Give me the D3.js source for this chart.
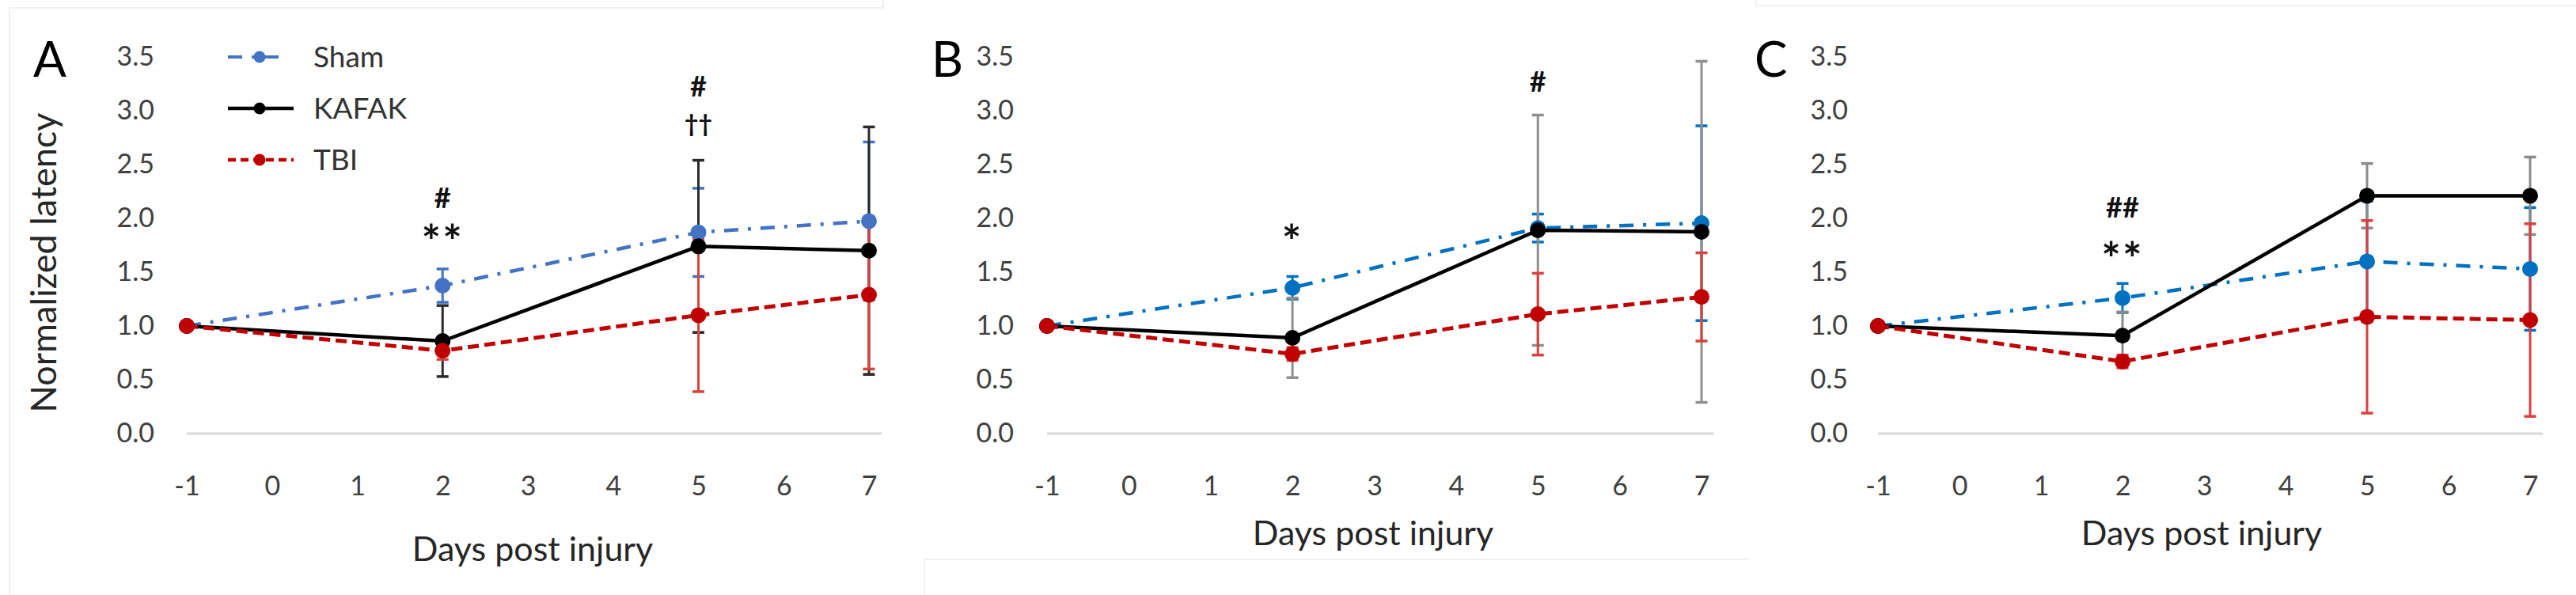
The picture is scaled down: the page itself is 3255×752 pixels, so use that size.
<!DOCTYPE html>
<html>
<head>
<meta charset="utf-8">
<script src="https://cdn.jsdelivr.net/npm/d3@7"></script>
<style>
  html, body { margin: 0; padding: 0; background: #fff; }
  svg { display: block; }
  text { font-family: Lato, "Noto Sans", sans-serif; }
</style>
</head>
<body>
<div id="chart"></div>
<script>
// Days on the x axis, and the tick values
var days = [-1, 2, 5, 7];
var xTicks = [-1, 0, 1, 2, 3, 4, 5, 6, 7];
var yTicks = [0, 0.5, 1, 1.5, 2, 2.5, 3, 3.5];
var seriesNames = ["Sham", "KAFAK", "TBI"];

// Panel A
var shamA = [1.0, 1.375, 1.87, 1.975];
var shamErrA = [0, 0.155, 0.41, 0.735];
var kafakA = [1.0, 0.86, 1.74, 1.70];
var kafakErrA = [0, 0.33, 0.80, 1.15];
var tbiA = [1.0, 0.77, 1.10, 1.29];
var tbiErrA = [0, 0.08, 0.71, 0.69];
var marksA = [
    {day: 2, at: 2.19, text: "#"},
    {day: 2, at: 1.85, text: "**"},
    {day: 5, at: 3.23, text: "#"},
    {day: 5, at: 2.88, text: "††"}
];

// Panel B
var shamB = [1.0, 1.355, 1.91, 1.955];
var shamErrB = [0, 0.105, 0.13, 0.905];
var kafakB = [1.0, 0.89, 1.89, 1.875];
var kafakErrB = [0, 0.37, 1.07, 1.585];
var tbiB = [1.0, 0.74, 1.11, 1.27];
var tbiErrB = [0, 0.06, 0.38, 0.41];
var marksB = [
    {day: 2, at: 1.85, text: "*"},
    {day: 5, at: 3.27, text: "#"}
];

// Panel C
var shamC = [1.0, 1.26, 1.60, 1.53];
var shamErrC = [0, 0.135, 0.56, 0.57];
var kafakC = [1.0, 0.91, 2.21, 2.21];
var kafakErrC = [0, 0.22, 0.30, 0.36];
var tbiC = [1.0, 0.67, 1.085, 1.055];
var tbiErrC = [0, 0.06, 0.895, 0.895];
var marksC = [
    {day: 2, at: 2.10, text: "##"},
    {day: 2, at: 1.69, text: "**"}
];

var width = 3255, height = 752;
var svg = d3.select("#chart").append("svg")
    .attr("width", width).attr("height", height);

// Faint frames left over from the pasted panels
var frame = svg.append("g").attr("stroke", "#ededed").attr("stroke-width", 1.5).attr("fill", "none");
frame.append("path").attr("d", "M12,752 V10 H1116 V0");
frame.append("path").attr("d", "M1168,752 V707 H2210");
frame.append("path").attr("d", "M2219,0 V7 H3255");

function zip(vals, errs) {
    return days.map(function(d, i) { return {day: d, v: vals[i], e: errs[i]}; });
}

var panels = [
    {label: "A", x0: 236, x1: 1098, tickRight: 195, labelX: 42, titleX: 673, titleY: 709,
     sham: zip(shamA, shamErrA), kafak: zip(kafakA, kafakErrA), tbi: zip(tbiA, tbiErrA),
     shamColor: "#4472C4", kafakErrColor: "#2b2b2b", marks: marksA, legend: true, yTitle: true},
    {label: "B", x0: 1323, x1: 2150, tickRight: 1281, labelX: 1177, titleX: 1735, titleY: 689,
     sham: zip(shamB, shamErrB), kafak: zip(kafakB, kafakErrB), tbi: zip(tbiB, tbiErrB),
     shamColor: "#0070C0", kafakErrColor: "#8f8f8f", marks: marksB},
    {label: "C", x0: 2373, x1: 3197, tickRight: 2335, labelX: 2217, titleX: 2782, titleY: 689,
     sham: zip(shamC, shamErrC), kafak: zip(kafakC, kafakErrC), tbi: zip(tbiC, tbiErrC),
     shamColor: "#0070C0", kafakErrColor: "#8a8a8a", marks: marksC}
];

var tbiColor = "#C00000", tbiErrColor = "#d9413f";
var y = d3.scaleLinear().domain([0, 3.5]).range([548, 72]);

panels.forEach(function(p) {
    var x = d3.scaleLinear().domain([-1, 7]).range([p.x0, p.x1]);
    var g = svg.append("g");

    // zero line
    g.append("line")
        .attr("x1", x(-1)).attr("x2", x(7) + 16)
        .attr("y1", y(0)).attr("y2", y(0))
        .attr("stroke", "#d9d9d9").attr("stroke-width", 3);

    // y axis labels
    var ya = g.append("g")
        .attr("transform", "translate(" + p.tickRight + ",0)")
        .call(d3.axisLeft(y).tickValues(yTicks).tickSize(0).tickPadding(0).tickFormat(d3.format(".1f")));
    ya.select(".domain").remove();
    ya.selectAll("text")
        .attr("font-family", "Lato, 'Noto Sans', sans-serif")
        .attr("font-size", 34).attr("fill", "#404040");

    // x axis labels
    var xa = g.append("g")
        .attr("transform", "translate(0," + y(0) + ")")
        .call(d3.axisBottom(x).tickValues(xTicks).tickSize(0).tickFormat(d3.format("d")));
    xa.select(".domain").remove();
    xa.selectAll("text")
        .attr("y", 78).attr("dy", 0)
        .attr("font-family", "Lato, 'Noto Sans', sans-serif")
        .attr("font-size", 34).attr("fill", "#404040")
        .text(function(d) { return d < 0 ? "-" + Math.abs(d) : d; });

    // axis title
    g.append("text")
        .attr("x", p.titleX).attr("y", p.titleY)
        .attr("text-anchor", "middle")
        .attr("font-size", 43).attr("fill", "#262626")
        .text("Days post injury");

    if (p.yTitle) {
        g.append("text")
            .attr("transform", "translate(71,332) rotate(-90)")
            .attr("text-anchor", "middle")
            .attr("font-size", 45).attr("fill", "#262626")
            .text("Normalized latency");
    }

    // panel letter
    g.append("text")
        .attr("x", p.labelX).attr("y", 97)
        .attr("font-size", 62).attr("fill", "#000")
        .text(p.label);

    // error bars
    function errorBars(data, color) {
        var eb = g.append("g").attr("stroke", color);
        var d2 = data.filter(function(d) { return d.e > 0; });
        eb.selectAll(".bar").data(d2).enter().append("line")
            .attr("x1", function(d) { return x(d.day); })
            .attr("x2", function(d) { return x(d.day); })
            .attr("y1", function(d) { return y(d.v - d.e); })
            .attr("y2", function(d) { return y(d.v + d.e); })
            .attr("stroke-width", 3);
        [-1, 1].forEach(function(s) {
            eb.selectAll(".cap" + s).data(d2).enter().append("line")
                .attr("x1", function(d) { return x(d.day) - 7.5; })
                .attr("x2", function(d) { return x(d.day) + 7.5; })
                .attr("y1", function(d) { return y(d.v + s * d.e); })
                .attr("y2", function(d) { return y(d.v + s * d.e); })
                .attr("stroke-width", 3.5);
        });
    }
    errorBars(p.sham, p.shamColor);
    errorBars(p.kafak, p.kafakErrColor);
    errorBars(p.tbi, tbiErrColor);

    var line = d3.line()
        .x(function(d) { return x(d.day); })
        .y(function(d) { return y(d.v); });

    g.append("path").datum(p.sham).attr("d", line)
        .attr("fill", "none").attr("stroke", p.shamColor)
        .attr("stroke-width", 4.5).attr("stroke-dasharray", "18,12,4,12");
    g.append("path").datum(p.kafak).attr("d", line)
        .attr("fill", "none").attr("stroke", "#000").attr("stroke-width", 4.5);
    g.append("path").datum(p.tbi).attr("d", line)
        .attr("fill", "none").attr("stroke", tbiColor)
        .attr("stroke-width", 5).attr("stroke-dasharray", "14,7");

    function markers(data, color) {
        g.selectAll(null).data(data).enter().append("circle")
            .attr("cx", function(d) { return x(d.day); })
            .attr("cy", function(d) { return y(d.v); })
            .attr("r", 10).attr("fill", color);
    }
    markers(p.sham, p.shamColor);
    markers(p.kafak, "#000");
    markers(p.tbi, tbiColor);

    // significance marks
    p.marks.forEach(function(m) {
        var t = g.append("text")
            .attr("x", x(m.day))
            .attr("text-anchor", "middle")
            .attr("fill", "#111")
            .text(m.text);
        if (m.text.charAt(0) === "*") {
            t.attr("y", y(m.at) + 30).attr("font-size", 58)
                .attr("font-weight", "bold").attr("letter-spacing", 2);
        } else if (m.text.charAt(0) === "†") {
            t.attr("y", y(m.at) + 11).attr("font-size", 30).attr("font-weight", "bold");
        } else {
            t.attr("y", y(m.at) + 13).attr("font-size", 36).attr("font-weight", "bold");
        }
    });

    // legend
    if (p.legend) {
        var lx0 = 288, lx1 = 371, mx = 328, tx = 396;
        var items = [
            {name: seriesNames[0], color: p.shamColor, dash: "18,12,4,12", w: 4},
            {name: seriesNames[1], color: "#000", dash: null, w: 4.5},
            {name: seriesNames[2], color: tbiColor, dash: "10,6", w: 4.5}
        ];
        var lg = g.append("g");
        var row = lg.selectAll("g").data(items).enter().append("g")
            .attr("transform", function(d, i) { return "translate(0," + (72 + i * 65) + ")"; });
        row.append("line")
            .attr("x1", lx0).attr("x2", function(d, i) { return i === 0 ? 353 : lx1; })
            .attr("stroke", function(d) { return d.color; })
            .attr("stroke-width", function(d) { return d.w; })
            .attr("stroke-dasharray", function(d) { return d.dash; });
        row.append("circle").attr("cx", mx).attr("r", 7.5)
            .attr("fill", function(d) { return d.color; });
        row.append("text").attr("x", tx).attr("y", 13)
            .attr("font-size", 37).attr("fill", "#333")
            .text(function(d) { return d.name; });
    }
});
</script>
</body>
</html>
